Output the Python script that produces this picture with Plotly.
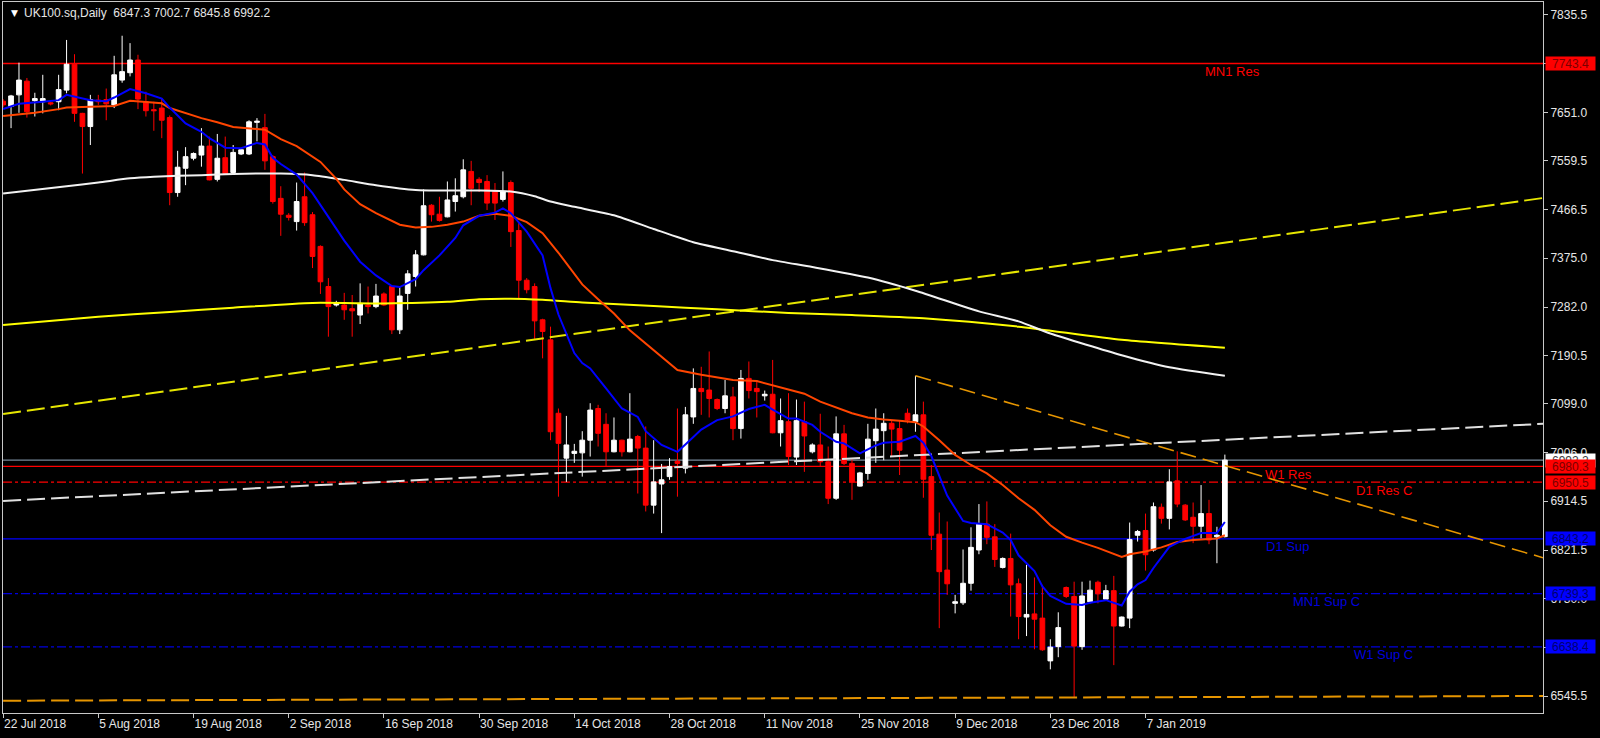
import plotly.graph_objects as go

# ---------------- data ----------------
opens = [7672, 7662, 7684, 7710, 7673, 7671, 7669, 7671, 7693, 7742,
         7649, 7624, 7674, 7675, 7665, 7712, 7726, 7750, 7671, 7656,
         7659, 7641, 7499, 7545, 7564, 7570, 7587, 7524, 7565, 7537,
         7572, 7572, 7632, 7622, 7567, 7488, 7456, 7444, 7491, 7457,
         7397, 7321, 7286, 7286, 7279, 7267, 7286, 7283, 7307, 7321,
         7239, 7308, 7340, 7381, 7475, 7458, 7453, 7482, 7491, 7539,
         7524, 7520, 7501, 7486, 7518, 7427, 7333, 7321, 7258, 7220,
         7081, 6996, 7005, 7006, 7030, 7090, 7060, 7008, 7030, 7008,
         7037, 7015, 6907, 6947, 6961, 6990, 6977, 7074, 7128, 7125,
         7107, 7090, 7112, 7052, 7147, 7128, 7114, 7117, 7044, 7065,
         6998, 7065, 7008, 7021, 6989, 6920, 7042, 6986, 6943, 6967,
         7029, 7048, 7062, 7052, 7081, 7065, 7078, 6961, 6852, 6784,
         6721, 6722, 6759, 6822, 6871, 6847, 6789, 6806, 6758, 6695,
         6701, 6693, 6612, 6639, 6751, 6734, 6639, 6724, 6761, 6729,
         6745, 6678, 6693, 6850, 6859, 6822, 6903, 6882, 6953, 6907,
         6884, 6867, 6891, 6847, 6847.3]
highs = [7676, 7684, 7745, 7716, 7688, 7722, 7671, 7722, 7788, 7761,
         7650, 7684, 7684, 7696, 7758, 7796, 7782, 7760, 7690, 7671,
         7677, 7645, 7578, 7585, 7575, 7621, 7605, 7610, 7605, 7589,
         7582, 7636, 7640, 7648, 7570, 7511, 7460, 7518, 7537, 7462,
         7399, 7337, 7294, 7309, 7305, 7327, 7321, 7326, 7310, 7323,
         7320, 7352, 7390, 7505, 7477, 7491, 7520, 7526, 7562, 7559,
         7528, 7532, 7517, 7539, 7522, 7441, 7337, 7327, 7260, 7245,
         7090, 7076, 7023, 7047, 7100, 7097, 7081, 7073, 7031, 7119,
         7040, 7056, 7030, 6985, 6996, 7090, 7093, 7166, 7169, 7198,
         7109, 7144, 7131, 7163, 7179, 7144, 7124, 7182, 7109, 7119,
         7107, 7103, 7024, 7080, 7018, 7075, 7059, 6994, 6970, 7061,
         7090, 7081, 7067, 7068, 7090, 7152, 7103, 6983, 6893, 6876,
         6737, 6823, 6865, 6909, 6914, 6871, 6808, 6853, 6768, 6794,
         6770, 6756, 6653, 6704, 6753, 6762, 6762, 6764, 6764, 6756,
         6773, 6696, 6874, 6860, 6891, 6912, 6910, 6975, 7009, 6909,
         6912, 6945, 6917, 6866, 7002.7]
lows = [7660, 7621, 7650, 7641, 7643, 7649, 7664, 7655, 7687, 7633,
        7535, 7589, 7665, 7636, 7659, 7707, 7719, 7657, 7643, 7616,
        7602, 7475, 7491, 7513, 7560, 7548, 7522, 7520, 7533, 7534,
        7570, 7570, 7596, 7542, 7478, 7417, 7446, 7427, 7436, 7356,
        7307, 7226, 7283, 7258, 7226, 7250, 7270, 7280, 7284, 7231,
        7231, 7277, 7321, 7380, 7444, 7444, 7452, 7463, 7488, 7475,
        7500, 7466, 7447, 7482, 7396, 7299, 7308, 7220, 7185, 7030,
        6923, 6951, 6987, 6961, 6999, 7018, 6980, 7007, 6999, 7007,
        6929, 6895, 6891, 6854, 6955, 6923, 6967, 7061, 7078, 7073,
        7087, 7081, 7030, 7033, 7109, 7073, 7105, 7043, 7018, 6983,
        6983, 6970, 7005, 6980, 6909, 6917, 6983, 6917, 6942, 6955,
        6987, 6992, 6999, 6964, 7062, 7046, 6921, 6822, 6674, 6737,
        6702, 6718, 6745, 6814, 6833, 6790, 6787, 6696, 6653, 6659,
        6634, 6631, 6596, 6619, 6731, 6542, 6633, 6721, 6721, 6727,
        6604, 6677, 6674, 6838, 6783, 6819, 6872, 6861, 6903, 6877,
        6835, 6844, 6833, 6797, 6845.8]
closes = [7665, 7682, 7712, 7652, 7677, 7677, 7667, 7694, 7742, 7649,
          7624, 7675, 7671, 7667, 7722, 7728, 7750, 7676, 7654, 7654,
          7636, 7499, 7547, 7567, 7573, 7587, 7523, 7564, 7535, 7575,
          7580, 7633, 7634, 7559, 7482, 7458, 7452, 7482, 7442, 7378,
          7330, 7283, 7290, 7277, 7275, 7289, 7283, 7303, 7286, 7239,
          7303, 7345, 7381, 7474, 7457, 7446, 7485, 7493, 7542, 7507,
          7518, 7479, 7479, 7501, 7425, 7333, 7315, 7256, 7236, 7046,
          7024, 7021, 7009, 7030, 7087, 7043, 7008, 7030, 7008, 7032,
          7015, 6907, 6951, 6955, 6980, 6986, 7078, 7128, 7122, 7109,
          7090, 7114, 7052, 7147, 7124, 7122, 7117, 7044, 7067, 6999,
          7067, 7038, 7021, 6989, 6920, 7042, 6986, 6951, 6968, 7032,
          7051, 7062, 7051, 7011, 7068, 7078, 6956, 6850, 6781, 6758,
          6724, 6759, 6827, 6871, 6846, 6804, 6806, 6756, 6696, 6700,
          6691, 6633, 6638, 6675, 6734, 6640, 6735, 6746, 6739, 6745,
          6678, 6695, 6842, 6857, 6813, 6904, 6882, 6951, 6909, 6879,
          6867, 6891, 6841, 6850, 6992.2]
bars = list(range(len(opens)))

# date labels on the time axis (one every 12 daily bars)
tick_bars = [0, 12, 24, 36, 48, 60, 72, 84, 96, 108, 120, 132, 144]
tick_dates = ["22 Jul 2018", "5 Aug 2018", "19 Aug 2018", "2 Sep 2018",
              "16 Sep 2018", "30 Sep 2018", "14 Oct 2018", "28 Oct 2018",
              "11 Nov 2018", "25 Nov 2018", "9 Dec 2018", "23 Dec 2018",
              "7 Jan 2019"]

price_ticks = [7835.5, 7743.0, 7651.0, 7559.5, 7466.5, 7375.0, 7282.0,
               7190.5, 7099.0, 7006.0, 6914.5, 6821.5, 6730.0, 6638.0, 6545.5]

# moving averages (bar index, value)
blue_ma_bars = [0, 2, 5, 7, 8, 9, 11, 13, 14, 16, 18, 20, 21, 23, 25, 26, 28, 30,
                32, 33, 34, 35, 37, 39, 41, 43, 45, 47, 49, 50, 52, 53, 55, 57,
                58, 60, 62, 63, 64, 66, 68, 69, 70, 71, 72, 73, 74, 76, 78, 80,
                81, 83, 85, 86, 88, 90, 92, 94, 96, 97, 99, 100, 102, 103, 105,
                106, 108, 110, 111, 113, 115, 116, 117, 119, 121, 122, 124, 126,
                127, 128, 130, 131, 132, 134, 136, 137, 139, 141, 142, 143, 144,
                145, 147, 149, 151, 153, 154]
blue_ma_vals = [7657, 7667, 7671, 7674, 7684, 7681, 7674, 7672, 7679, 7695, 7687,
                7677, 7660, 7630, 7614, 7602, 7584, 7583, 7593, 7590, 7565, 7553,
                7533, 7498, 7452, 7408, 7368, 7342, 7322, 7320, 7335, 7352, 7380,
                7413, 7437, 7455, 7461, 7469, 7460, 7425, 7380, 7318, 7268, 7230,
                7195, 7176, 7166, 7128, 7090, 7074, 7047, 7021, 7008, 7022, 7050,
                7068, 7075, 7089, 7097, 7088, 7071, 7071, 7059, 7046, 7027, 7024,
                7005, 7020, 7025, 7027, 7038, 7025, 7000, 6925, 6877, 6873, 6871,
                6855, 6841, 6812, 6782, 6753, 6735, 6720, 6718, 6722, 6727, 6717,
                6743, 6757, 6765, 6788, 6828, 6843, 6854, 6854, 6875]
orange_ma_bars = [0, 4, 7, 8, 12, 14, 16, 18, 20, 21, 23, 25, 27, 29, 33, 35, 37,
                  40, 42, 43, 45, 47, 50, 52, 54, 56, 58, 60, 62, 64, 66, 68, 70,
                  73, 75, 77, 79, 82, 84, 85, 88, 90, 92, 95, 97, 99, 101, 103,
                  105, 107, 109, 111, 113, 115, 116, 118, 120, 122, 124, 126, 128,
                  130, 132, 134, 136, 138, 141, 142, 144, 146, 148, 150, 153, 154]
orange_ma_vals = [7644, 7650, 7657, 7660, 7662, 7663, 7673, 7671, 7668, 7659, 7649,
                  7640, 7632, 7623, 7618, 7600, 7587, 7557, 7525, 7505, 7477, 7460,
                  7438, 7433, 7434, 7438, 7444, 7455, 7459, 7455, 7443, 7422, 7385,
                  7325, 7297, 7270, 7238, 7200, 7175, 7163, 7154, 7149, 7144, 7142,
                  7134, 7125, 7118, 7103, 7092, 7081, 7073, 7069, 7067, 7064, 7056,
                  7030, 7002, 6983, 6967, 6945, 6920, 6898, 6869, 6847, 6836, 6826,
                  6809, 6814, 6819, 6827, 6837, 6841, 6844, 6850]
white_ma_bars = [0, 8, 12, 16, 19, 25, 29, 32, 35, 39, 43, 47, 52, 56, 60, 64,
                 67, 69, 72, 77, 82, 87, 92, 97, 102, 109, 115, 123, 128, 132,
                 141, 147, 154]
white_ma_vals = [7497, 7511, 7518, 7526, 7529, 7532, 7534, 7535, 7535, 7532, 7523,
                 7513, 7504, 7503, 7503, 7501, 7492, 7482, 7472, 7456, 7430, 7405,
                 7388, 7371, 7358, 7338, 7313, 7274, 7255, 7232, 7191, 7168, 7152]
yellow_ma_bars = [0, 12, 21, 29, 39, 48, 56, 60, 64, 68, 73, 82, 90, 99, 107, 116,
                  128, 141, 154]
yellow_ma_vals = [7248, 7264, 7273, 7281, 7290, 7289, 7292, 7297, 7298, 7296, 7291,
                  7284, 7278, 7271, 7267, 7261, 7245, 7220, 7205]

# trend lines (anchor bars, anchor prices)
yellow_trend_bars = [0, 194.1]
yellow_trend_prices = [7079.6, 7488.7]
white_trend_bars = [0, 194.1]
white_trend_prices = [6915.0, 7061.0]
orange_trend_bars = [115, 194.1]
orange_trend_prices = [7152.0, 6807.4]
bottom_trend_bars = [0, 194.1]
bottom_trend_prices = [6536.6, 6545.5]

# horizontal levels
level_names = ["MN1 Res", "W1 Res", "D1 Res C", "D1 Sup", "MN1 Sup C", "W1 Sup C"]
level_prices = [7743.4, 6980.3, 6950.5, 6843.2, 6739.3, 6638.4]
bid_price = closes[-1]

# ---------------- styling ----------------
level_line_colors = ["#FF0000", "#FF0000", "#FF0000", "#0000FF", "#0000DD", "#0000DD"]
level_text_colors = ["#FF0000", "#FF0000", "#FF0000", "#0000DD", "#0000DD", "#0000DD"]
level_dash = ["solid", "solid", "9px,3px,3px,3px", "solid", "9px,3px,3px,3px", "9px,3px,3px,3px"]
level_label_bar = [154.9, 162.0, 174.0, 161.9, 166.8, 174.0]
box_fill = ["#FF0000", "#FF0000", "#FF0000", "#0000FF", "#0000FF", "#0000FF"]
box_text = ["#7A0000", "#7A0000", "#7A0000", "#000070", "#000070", "#000070"]

FONT = "Liberation Sans, Arial, DejaVu Sans"
X_RANGE = [-0.013, 194.1]
Y_RANGE = [6513.3, 7859.9]
FRAME = "#C8C8C8"

fig = go.Figure()

# trend lines (behind candles)
fig.add_trace(go.Scatter(x=yellow_trend_bars, y=yellow_trend_prices, mode="lines",
                         line=dict(color="#E6E600", width=2, dash="18px,6px"), hoverinfo="skip"))
fig.add_trace(go.Scatter(x=white_trend_bars, y=white_trend_prices, mode="lines",
                         line=dict(color="#E0E0E0", width=2, dash="18px,6px"), hoverinfo="skip"))
fig.add_trace(go.Scatter(x=orange_trend_bars, y=orange_trend_prices, mode="lines",
                         line=dict(color="#E69500", width=1.6, dash="16px,7px"), hoverinfo="skip"))
fig.add_trace(go.Scatter(x=bottom_trend_bars, y=bottom_trend_prices, mode="lines",
                         line=dict(color="#E69500", width=2, dash="18px,6px"), hoverinfo="skip"))

# candles
fig.add_trace(go.Candlestick(
    x=bars, open=opens, high=highs, low=lows, close=closes,
    increasing=dict(line=dict(color="#FFFFFF", width=1), fillcolor="#FFFFFF"),
    decreasing=dict(line=dict(color="#FF0000", width=1), fillcolor="#FF0000"),
    whiskerwidth=0, hoverinfo="skip"))

# moving averages
fig.add_trace(go.Scatter(x=yellow_ma_bars, y=yellow_ma_vals, mode="lines",
                         line=dict(color="#FFFF00", width=2, shape="spline", smoothing=0.6), hoverinfo="skip"))
fig.add_trace(go.Scatter(x=white_ma_bars, y=white_ma_vals, mode="lines",
                         line=dict(color="#F2F2F2", width=2, shape="spline", smoothing=0.6), hoverinfo="skip"))
fig.add_trace(go.Scatter(x=orange_ma_bars, y=orange_ma_vals, mode="lines",
                         line=dict(color="#FF4500", width=2), hoverinfo="skip"))
fig.add_trace(go.Scatter(x=blue_ma_bars, y=blue_ma_vals, mode="lines",
                         line=dict(color="#0000FF", width=2), hoverinfo="skip"))

shapes = []
# bid line
shapes.append(dict(type="line", xref="paper", x0=0, x1=1, yref="y", y0=bid_price, y1=bid_price,
                   line=dict(color="#778899", width=1.3), layer="below"))
for p, c, d in zip(level_prices, level_line_colors, level_dash):
    shapes.append(dict(type="line", xref="paper", x0=0, x1=1, yref="y", y0=p, y1=p,
                       line=dict(color=c, width=1.3, dash=d), layer="below"))

annotations = []
# header
annotations.append(dict(xref="paper", yref="paper", x=0, y=0.985, xshift=6, xanchor="left",
                        yanchor="middle", showarrow=False, text="\u25BC",
                        font=dict(family="DejaVu Sans", size=9, color="#FFFFFF")))
annotations.append(dict(xref="paper", yref="paper", x=0, y=0.985, xshift=19, xanchor="left",
                        yanchor="middle", showarrow=False,
                        text="UK100.sq,Daily\u00a0\u00a0%.1f %.1f %.1f %.1f" % (opens[-1], highs[-1], lows[-1], closes[-1]),
                        font=dict(family=FONT, size=12, color="#E6E6E6")))
# level labels in the chart
for name, p, xb, tc in zip(level_names, level_prices, level_label_bar, level_text_colors):
    annotations.append(dict(x=xb, y=p, yshift=-8, xanchor="center", yanchor="middle",
                            showarrow=False, text=name,
                            font=dict(family=FONT, size=13, color=tc)))
# price boxes on the axis
annotations.append(dict(xref="paper", x=1, xshift=2, xanchor="left", y=bid_price, yanchor="middle",
                        showarrow=False, text="%.1f" % bid_price, bgcolor="#FFFFFF",
                        width=49, height=13, borderpad=0, align="center",
                        font=dict(family=FONT, size=12, color="#404040")))
for p, bf, bt in zip(level_prices, box_fill, box_text):
    annotations.append(dict(xref="paper", x=1, xshift=2, xanchor="left", y=p, yanchor="middle",
                            showarrow=False, text="%.1f" % p, bgcolor=bf,
                            width=49, height=13, borderpad=0, align="center",
                            font=dict(family=FONT, size=12, color=bt)))

fig.update_layout(
    width=1600, height=738,
    margin=dict(l=3, r=57, t=2, b=25, pad=0),
    paper_bgcolor="#000000", plot_bgcolor="#000000",
    showlegend=False, boxgap=0.15, boxgroupgap=0.3,
    shapes=shapes, annotations=annotations,
    xaxis=dict(range=X_RANGE, tickmode="array", tickvals=tick_bars, ticktext=tick_dates,
               ticks="outside", ticklen=4, tickcolor=FRAME, showgrid=False, zeroline=False,
               showline=True, linecolor=FRAME, linewidth=1, mirror=True,
               tickfont=dict(family=FONT, size=12, color="#E6E6E6"),
               ticklabelposition="outside right",
               rangeslider=dict(visible=False), fixedrange=True),
    yaxis=dict(range=Y_RANGE, side="right", tickmode="array", tickvals=price_ticks,
               ticktext=["%.1f" % v for v in price_ticks],
               ticks="outside", ticklen=4, tickcolor=FRAME, showgrid=False, zeroline=False,
               showline=True, linecolor=FRAME, linewidth=1, mirror=True,
               tickfont=dict(family=FONT, size=12, color="#E6E6E6"), fixedrange=True),
)

fig.write_html("out.html", config={"displayModeBar": False},
               post_script="document.body.style.margin='0';document.body.style.background='#000';")
